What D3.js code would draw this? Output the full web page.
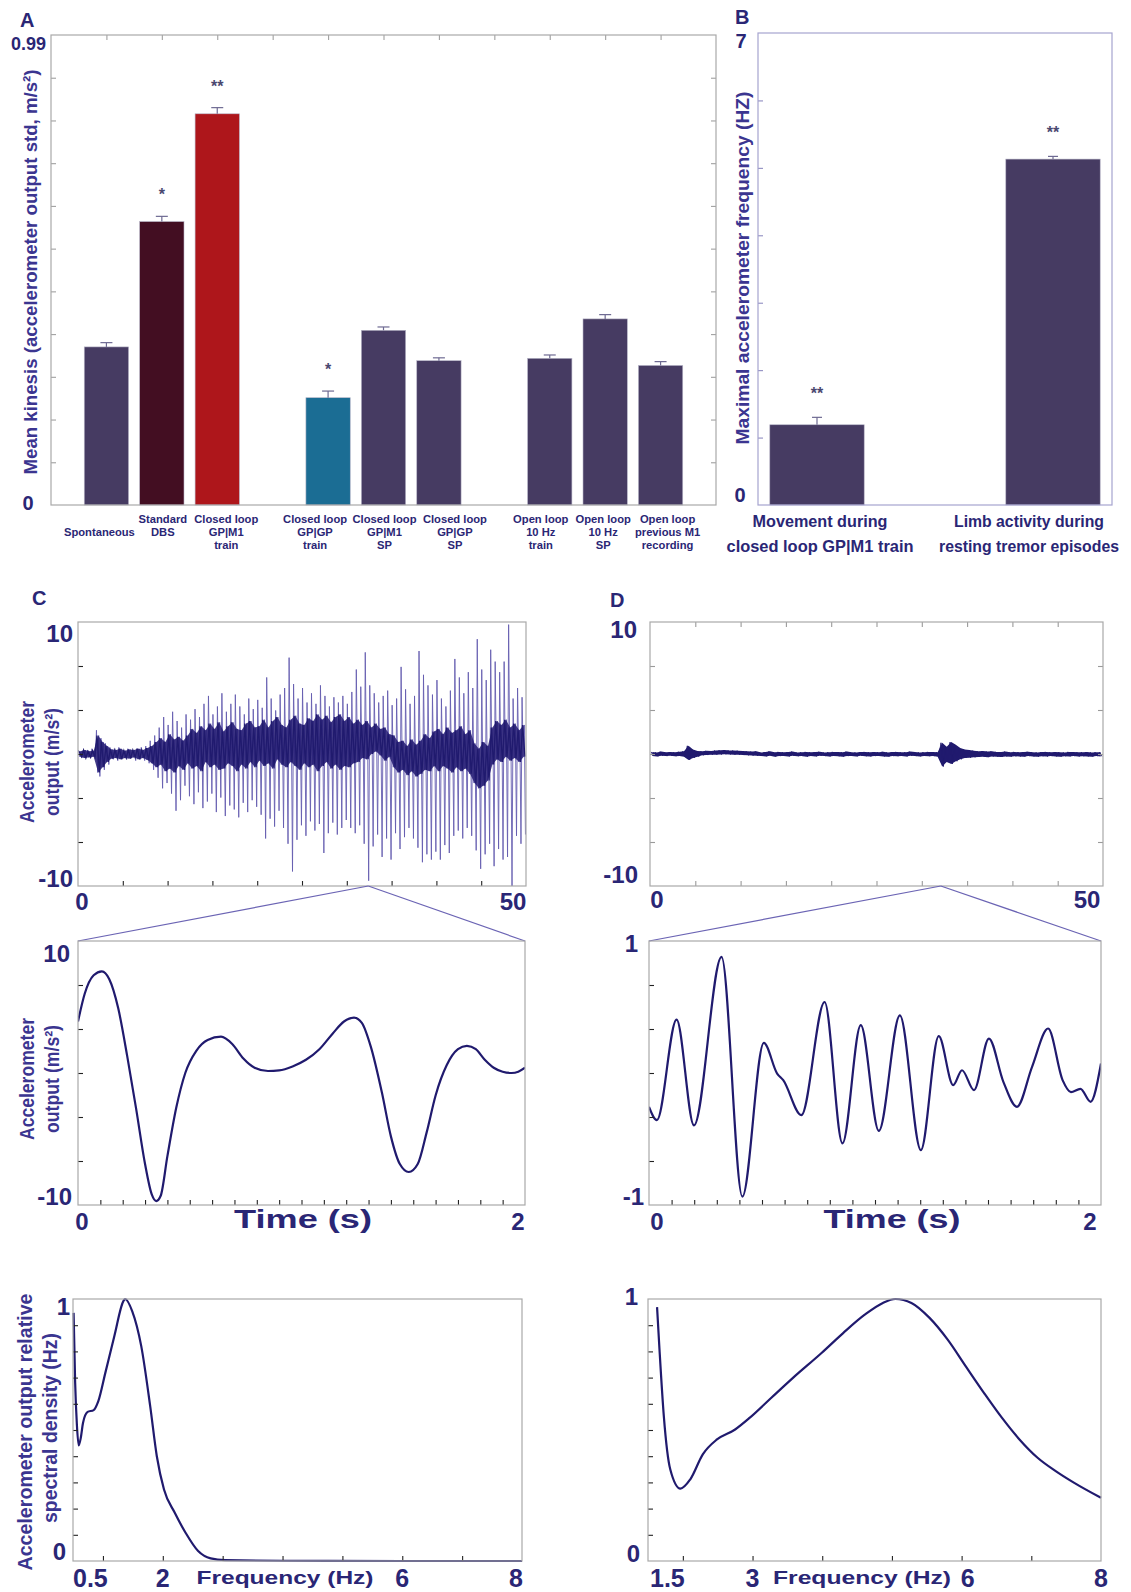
<!DOCTYPE html>
<html>
<head>
<meta charset="utf-8">
<script src="https://cdn.jsdelivr.net/npm/d3@7"></script>
<style>
  body { margin: 0; background: #fff; }
</style>
</head>
<body>
<script>
// ---------- data ----------

// A: mean kinesis per condition
const kinesisLabels = [
  ["Spontaneous"], ["Standard", "DBS"], ["Closed loop", "GP|M1", "train"],
  ["Closed loop", "GP|GP", "train"], ["Closed loop", "GP|M1", "SP"], ["Closed loop", "GP|GP", "SP"],
  ["Open loop", "10 Hz", "train"], ["Open loop", "10 Hz", "SP"], ["Open loop", "previous M1", "recording"]
];
const kinesisSlot = [1, 2, 3, 5, 6, 7, 9, 10, 11];
const kinesisMean = [0.333, 0.597, 0.824, 0.226, 0.368, 0.304, 0.309, 0.392, 0.294];
const kinesisErr = [0.009, 0.011, 0.013, 0.014, 0.007, 0.006, 0.007, 0.009, 0.008];
const kinesisStars = ["", "*", "**", "*", "", "", "", "", ""];

// B: maximal accelerometer frequency
const freqLabels = [["Movement during", "closed loop GP|M1 train"], ["Limb activity during", "resting tremor episodes"]];
const freqMean = [1.19, 5.13];
const freqErr = [0.11, 0.04];
const freqStars = ["**", "**"];

// C top: 50 s raw trace, peak envelope per 0.5 s bin
const rawHiC = [0.3,0.2,0.3,0.4, 1.8,1.2,0.8, 0.5,0.4,0.5,0.3,0.4,0.3,0.4,0.5,0.6,
  1.0,1.4,2.0,2.8, 2.2,3.2,2.5,2.0, 3.0,2.6,3.4,2.8,3.8,4.4,3.0,3.6,4.6,3.2,
  3.8,4.5,3.6,3.0,4.2,3.4, 4.1,3.5,5.8,4.2,3.3, 4.5,5.0,7.3,5.3,4.2, 5.0,3.9,4.6,3.8,5.2,
  4.4,3.6,4.3,3.9,4.4, 3.8,4.7,6.4,5.1,7.7, 5.2,4.6,3.9,4.4,4.8, 3.7,4.2,6.6,4.9,3.8,
  4.4,7.8,6.0,5.2,4.5, 5.6,4.2,3.6,4.8,7.2, 5.8,4.6,6.2,5.0,8.7, 6.4,5.6,7.9,7.0,6.2,
  7.0,9.8,4.2,5.0,4.3];
const rawLoC = [-0.3,-0.2,-0.3,-0.4, -1.7,-1.2,-0.8, -0.4,-0.5,-0.3,-0.4,-0.3,-0.5,-0.4,-0.5,-0.7,
  -1.2,-1.8,-2.6,-2.2, -3.0,-4.3,-3.5,-2.4, -3.2,-3.8,-2.9,-4.1,-3.6,-3.0,-4.4,-3.3,-4.7,-3.9,
  -4.2,-4.8,-3.7,-4.4,-3.5,-4.0, -4.6,-6.4,-4.9,-5.5,-4.3, -5.6,-6.8,-8.9,-6.5,-5.4, -6.2,-5.1,-5.8,-5.3,-7.5,
  -6.0,-5.2,-6.1,-5.6,-5.0, -5.6,-6.0,-5.4,-6.8,-9.6, -7.0,-6.1,-7.8,-6.4,-8.0, -6.0,-7.2,-6.3,-5.6,-6.4,
  -7.1,-8.2,-7.6,-8.0,-7.4, -8.0,-6.9,-7.5,-6.2,-5.8, -6.4,-5.6,-6.2,-7.3,-8.7, -7.6,-6.8,-8.5,-7.2,-8.0,
  -7.8,-10.0,-6.2,-6.8,-6.1];
// C top: dense dark core of the trace, per 0.5 s bin
const coreHiC = [0.2,0.3,0.2,0.25, 1.4,0.9,0.6,0.35, 0.3,0.4,0.25,0.35,0.3,0.4,0.3,0.45,
  0.6,0.9,1.2,0.9,1.5,1.1,1.3,1.0,
  1.4,1.9,1.6,2.1,1.8,2.3,1.9,2.4,1.7,2.1,2.4,1.9,1.8,2.3,2.5,2.0,
  2.1,2.6,2.0,2.5,2.8,2.2,2.0,2.6,2.9,2.3,2.2,2.7,2.5,3.0,2.6,2.9,2.4,2.8,3.0,2.5,
  2.8,2.3,2.6,2.2,2.5,2.0,2.3,1.9,2.0,1.5, 1.4,0.9,1.0,0.6,1.1,0.7, 1.0,1.5,1.2,1.7,
  1.9,1.5,2.0,1.6,1.8,2.1,1.5,1.8, 0.8,0.4,0.9,0.6, 2.0,2.5,2.2,2.6,2.0,2.3,1.8,2.2];
const coreLoC = [-0.2,-0.3,-0.25,-0.2, -1.4,-1.0,-0.6,-0.35, -0.3,-0.4,-0.3,-0.35,-0.25,-0.4,-0.3,-0.45,
  -0.7,-1.0,-0.8,-1.3,-1.1,-1.4,-0.9,-1.2,
  -0.7,-1.1,-0.9,-1.3,-0.6,-1.0,-0.8,-1.2,-1.1,-0.7,-0.9,-1.3,-0.8,-1.1,-0.6,-1.0,
  -0.5,-0.9,-0.7,-1.1,-0.4,-0.8,-1.0,-0.6,-0.9,-1.2,-0.7,-1.0,-0.8,-1.3,-0.9,-0.6,-1.1,-0.8,-1.2,-0.9,
  -1.0,-0.7,-0.6,-0.3,-0.4,0.0,0.2,-0.1,-0.5,-0.2, -1.0,-1.4,-1.2,-1.6,-1.3,-1.7, -1.5,-1.2,-1.3,-0.9,
  -1.3,-0.9,-1.1,-1.4,-1.0,-1.3,-1.1,-1.5, -2.2,-2.6,-2.4,-2.0, -0.8,-0.4,-0.6,-0.2,-0.5,-0.3,-0.6,-0.2];

// D top: 50 s raw trace, envelope per 0.5 s bin
const rawHiD = [0.16,0.12,0.18,0.14,0.15,0.13,0.17,0.2, 0.62,0.35,0.22,
  0.2,0.24,0.22,0.26,0.28,0.3,0.27,0.26,0.25,0.22,0.2,0.18,0.2,
  0.12,0.15,0.2,0.14,0.16,0.13,0.15,0.18,0.12,0.14, 0.16,0.13,0.15,0.17,0.12,0.14,0.16,0.15,0.13,0.18,
  0.14,0.12,0.15,0.16,0.13,0.15,0.14,0.17,0.12,0.15, 0.16,0.13,0.14,0.18,0.15,0.12,0.14,0.16,0.15,0.13,
  0.85,0.55,0.9,0.7,0.45,0.35,0.3,
  0.25,0.2,0.22,0.18,0.2,0.16,0.15,0.18,0.14,0.16, 0.13,0.15,0.17,0.14,0.12,0.15,0.16,0.13,0.15,0.14,
  0.12,0.16,0.15,0.13,0.14,0.15,0.12,0.14,0.13];
const rawLoD = [-0.15,-0.18,-0.13,-0.16,-0.14,-0.17,-0.15,-0.2, -0.45,-0.3,-0.2,
  -0.1,-0.08,-0.06,-0.05,-0.04,-0.02,-0.03,-0.05,-0.06,-0.08,-0.1,-0.12,-0.14,
  -0.15,-0.18,-0.14,-0.2,-0.16,-0.15,-0.19,-0.14,-0.17,-0.16, -0.2,-0.15,-0.18,-0.14,-0.16,-0.19,-0.15,-0.17,-0.2,-0.16,
  -0.15,-0.18,-0.14,-0.17,-0.19,-0.16,-0.15,-0.18,-0.2,-0.16, -0.17,-0.15,-0.19,-0.14,-0.16,-0.18,-0.15,-0.17,-0.16,-0.2,
  -0.95,-0.6,-0.75,-0.55,-0.4,-0.3,-0.28,
  -0.25,-0.22,-0.2,-0.24,-0.19,-0.2,-0.22,-0.18,-0.2,-0.17, -0.19,-0.2,-0.16,-0.18,-0.2,-0.17,-0.19,-0.16,-0.18,-0.2,
  -0.17,-0.18,-0.16,-0.19,-0.17,-0.18,-0.2,-0.16,-0.18];

// C middle: 2 s zoom of the trace
const zoomTC = [0,0.03,0.07,0.107,0.14,0.18,0.22,0.26,0.30,0.33,0.35,0.37,0.40,0.44,0.48,0.53,0.58,0.64,0.69,0.74,
  0.79,0.85,0.90,0.96,1.02,1.08,1.14,1.19,1.235,1.27,1.31,1.36,1.40,1.44,1.48,1.52,1.56,1.60,1.65,1.70,
  1.74,1.78,1.82,1.86,1.90,1.94,1.97,2.0];
const zoomVC = [3.9,6.0,7.4,7.7,7.1,4.9,1.3,-2.7,-6.9,-9.2,-9.7,-9.3,-6.3,-2.6,0.0,1.7,2.5,2.75,2.2,1.1,
  0.4,0.15,0.2,0.5,1.0,1.8,3.0,3.9,4.2,3.8,2.0,-1.5,-4.8,-6.9,-7.5,-6.9,-4.5,-1.7,0.6,1.8,
  2.06,1.8,1.0,0.4,0.1,0.0,0.1,0.4];

// D middle: 2 s zoom of the trace
const zoomTD = [0,0.035,0.122,0.199,0.321,0.413,0.508,0.567,0.594,0.674,0.777,0.856,0.937,1.017,1.110,
  1.203,1.282,1.346,1.385,1.438,1.504,1.568,1.628,1.695,1.766,1.83,1.867,1.909,1.954,2.0];
const zoomVD = [-0.256,-0.357,0.405,-0.397,0.879,-0.937,0.228,-0.004,-0.054,-0.319,0.538,-0.533,0.362,-0.438,0.437,
  -0.584,0.279,-0.092,0.021,-0.130,0.261,-0.067,-0.256,0.047,0.337,-0.054,-0.145,-0.12,-0.218,0.072];

// bottom: relative spectral density
const specFC = [0.51,0.536,0.565,0.595,0.63,0.667,0.744,0.845,0.923,1.04,1.19,1.34,1.37,1.49,1.64,1.79,1.90,2.02,
  2.2,2.38,2.59,2.8,3.04,4.0,6.0,8.0];
const specVC = [0.947,0.68,0.52,0.441,0.47,0.527,0.569,0.576,0.61,0.718,0.858,0.991,1.0,0.953,0.82,0.59,0.40,0.273,
  0.184,0.108,0.038,0.01,0.003,0.001,0,0];
const specFD = [1.63,1.665,1.727,1.82,1.965,2.105,2.286,2.49,2.75,2.957,3.27,3.58,3.99,4.3,4.61,4.87,5.05,5.28,
  5.54,5.80,6.06,6.32,6.58,6.83,7.09,7.35,7.61,8.0];
const specVD = [0.969,0.807,0.553,0.349,0.276,0.311,0.407,0.464,0.502,0.546,0.623,0.699,0.794,0.870,0.940,0.985,1.0,0.985,
  0.928,0.845,0.743,0.642,0.546,0.464,0.394,0.343,0.299,0.241];

// ---------- styles ----------
const INK = "#2a2675", LABEL = "#3b3590", FRAME = "#a9a9a9", TRACE = "#201a6e";
const SANS = '"Liberation Sans", Arial, sans-serif';
const barFill = { default: "#463b62", "Standard DBS": "#430e22", "Closed loop GP|M1 train": "#ae161b", "Closed loop GP|GP train": "#1b6d94" };
// the category labels in A are spread a little wider than the bars
const labelShiftA = [-7, 1, 9, -13, 1, 16, -9, -2, 7];

const svg = d3.select("body").append("svg").attr("width", 1131).attr("height", 1592);
const defs = svg.append("defs");

function text(g, x, y, str, size, opt = {}) {
  const t = g.append("text").attr("x", x).attr("y", y).text(str)
    .attr("font-size", size).attr("font-weight", "bold")
    .attr("font-family", SANS)
    .attr("fill", opt.fill || INK)
    .attr("text-anchor", opt.anchor || "middle");
  if (opt.len) t.attr("textLength", opt.len).attr("lengthAdjust", "spacingAndGlyphs");
  if (opt.rotate) t.attr("transform", `rotate(-90 ${x} ${y})`).attr("dy", "0.35em");
  return t;
}

function frame(x, y, color) {
  svg.append("rect")
    .attr("x", x.range()[0]).attr("y", y.range()[1])
    .attr("width", x.range()[1] - x.range()[0]).attr("height", y.range()[0] - y.range()[1])
    .attr("fill", "none").attr("stroke", color || FRAME).attr("stroke-width", 1.2);
}

// ticks pointing into the plot box
function innerTicks(axisFn, scale, values, tx, ty, color, len = 5) {
  svg.append("g").attr("transform", `translate(${tx},${ty})`)
    .call(axisFn(scale).tickValues(values).tickSize(-len).tickFormat(""))
    .call(a => a.select(".domain").remove())
    .call(a => a.selectAll("line").attr("stroke", color).attr("stroke-width", 1.1));
}

function clipFor(id, x, y) {
  defs.append("clipPath").attr("id", id).append("rect")
    .attr("x", x.range()[0]).attr("y", y.range()[1])
    .attr("width", x.range()[1] - x.range()[0]).attr("height", y.range()[0] - y.range()[1]);
  return `url(#${id})`;
}

// ---------- A ----------
const xA = d3.scaleLinear().domain([0, 12]).range([51, 716]);
const yA = d3.scaleLinear().domain([0, 0.99]).range([505, 35]);
const ticksA = d3.range(1, 11).map(i => i * 0.09);
innerTicks(d3.axisLeft, yA, ticksA, 51, 0, "#a0a0a0");
innerTicks(d3.axisRight, yA, ticksA, 716, 0, "#a0a0a0");
innerTicks(d3.axisTop, xA, d3.range(1, 12), 0, 35, "#a0a0a0");

const gA = svg.append("g");
kinesisMean.forEach((m, i) => {
  const name = kinesisLabels[i].join(" ");
  const cx = xA(kinesisSlot[i]);
  gA.append("rect")
    .attr("x", xA(kinesisSlot[i] - 0.4)).attr("y", yA(m))
    .attr("width", xA(0.8) - xA(0)).attr("height", yA(0) - yA(m))
    .attr("fill", barFill[name] || barFill.default)
    .attr("stroke", "#b8b6c8").attr("stroke-width", 0.6);
  const top = yA(m + kinesisErr[i]);
  gA.append("line").attr("x1", cx).attr("x2", cx).attr("y1", yA(m)).attr("y2", top)
    .attr("stroke", "#6e6a92").attr("stroke-width", 1.2);
  gA.append("line").attr("x1", cx - 6).attr("x2", cx + 6).attr("y1", top).attr("y2", top)
    .attr("stroke", "#6e6a92").attr("stroke-width", 1.2);
  if (kinesisStars[i]) text(gA, cx, top - 16, kinesisStars[i], 16, { fill: "#4a4870" });
  const lines = kinesisLabels[i];
  const start = lines.length === 1 ? 1 : 0;
  lines.forEach((s, k) => text(gA, cx + labelShiftA[i], 523 + (start + k) * 13, s, 11.2));
});
frame(xA, yA);
text(svg, 20, 27, "A", 20, { anchor: "start" });
text(svg, 46, 50, "0.99", 18, { anchor: "end" });
text(svg, 28, 510, "0", 20);
text(svg, 30, 272, "Mean kinesis (accelerometer output std, m/s²)", 19, { rotate: true, fill: LABEL, len: 405 });

// ---------- B ----------
const xB = d3.scaleLinear().domain([0.75, 2.25]).range([758, 1112]);
const yB = d3.scaleLinear().domain([0, 7]).range([505, 33]);
innerTicks(d3.axisLeft, yB, d3.range(1, 7), 758, 0, "#8f8cc0");
const gB = svg.append("g");
freqMean.forEach((m, i) => {
  const cx = xB(i + 1);
  gB.append("rect")
    .attr("x", xB(i + 1 - 0.2)).attr("y", yB(m))
    .attr("width", xB(0.4) - xB(0)).attr("height", yB(0) - yB(m))
    .attr("fill", barFill.default).attr("stroke", "#b8b6c8").attr("stroke-width", 0.6);
  const top = yB(m + freqErr[i]);
  gB.append("line").attr("x1", cx).attr("x2", cx).attr("y1", yB(m)).attr("y2", top)
    .attr("stroke", "#6e6a92").attr("stroke-width", 1.2);
  gB.append("line").attr("x1", cx - 5).attr("x2", cx + 5).attr("y1", top).attr("y2", top)
    .attr("stroke", "#6e6a92").attr("stroke-width", 1.2);
  text(gB, cx, top - 18, freqStars[i], 16, { fill: "#4a4870" });
  const lens = i === 0 ? [135, 187] : [150, 180];
  const lx = Math.min(cx + 3, 1131 - 12 - d3.max(lens) / 2);
  freqLabels[i].forEach((s, k) => text(gB, lx, 527 + k * 25, s, 16.5, { len: lens[k] }));
});
frame(xB, yB, "#a6a4cf");
text(svg, 735, 24, "B", 20, { anchor: "start" });
text(svg, 741, 48, "7", 20);
text(svg, 740, 502, "0", 20);
text(svg, 742, 268, "Maximal accelerometer frequency (HZ)", 19, { rotate: true, fill: LABEL, len: 353 });

// ---------- C / D top: 50 s traces ----------
const xC1 = d3.scaleLinear().domain([0, 50]).range([78, 526]);
const yC1 = d3.scaleLinear().domain([-10, 10]).range([886, 622]);
const xD1 = d3.scaleLinear().domain([0, 50]).range([650, 1103]);
const yD1 = d3.scaleLinear().domain([-10, 10]).range([886, 622]);
const sixths = d3.range(1, 6).map(i => -10 + i * 20 / 6);
const fives = d3.range(5, 50, 5);

// spikes of each 0.5 s bin: up to its peak, down into the core, up the core, down to its trough
const spikesC = rawHiC.flatMap((h, i) => {
  const t = i * 0.5;
  return [[t + 0.06, h], [t + 0.19, coreLoC[i]], [t + 0.31, coreHiC[i]], [t + 0.44, rawLoC[i]]];
});

const clipC1 = clipFor("clipC1", xC1, yC1);
const lineC1 = d3.line().x(d => xC1(d[0])).y(d => yC1(d[1]));
svg.append("path").datum(spikesC)
  .attr("d", lineC1).attr("fill", "none").attr("stroke", "#655db0").attr("stroke-width", 0.9)
  .attr("clip-path", clipC1);
svg.append("path").datum(coreHiC.map((h, i) => [i * 0.5 + 0.25, h, coreLoC[i]]))
  .attr("d", d3.area().x(d => xC1(d[0])).y0(d => yC1(d[2])).y1(d => yC1(d[1])))
  .attr("fill", "#251c73").attr("opacity", 0.85).attr("clip-path", clipC1);
svg.append("path").datum(coreHiC.flatMap((h, i) => [[i * 0.5 + 0.12, h], [i * 0.5 + 0.38, coreLoC[i]]]))
  .attr("d", lineC1).attr("fill", "none").attr("stroke", TRACE).attr("stroke-width", 1.3)
  .attr("clip-path", clipC1);
innerTicks(d3.axisLeft, yC1, sixths, 78, 0, "#222");
innerTicks(d3.axisBottom, xC1, fives, 0, 886, "#222");
frame(xC1, yC1);

const clipD1 = clipFor("clipD1", xD1, yD1);
svg.append("path").datum(rawHiD.map((h, i) => [i * 0.5 + 0.25, h, rawLoD[i]]))
  .attr("d", d3.area().x(d => xD1(d[0])).y0(d => yD1(d[2])).y1(d => yD1(d[1])))
  .attr("fill", TRACE).attr("clip-path", clipD1);
svg.append("path").datum(rawHiD.flatMap((h, i) => [[i * 0.5 + 0.12, h], [i * 0.5 + 0.38, rawLoD[i]]]))
  .attr("d", d3.line().x(d => xD1(d[0])).y(d => yD1(d[1])))
  .attr("fill", "none").attr("stroke", TRACE).attr("stroke-width", 0.9).attr("clip-path", clipD1);
innerTicks(d3.axisLeft, yD1, sixths, 650, 0, "#9a9a9a");
innerTicks(d3.axisRight, yD1, sixths, 1103, 0, "#9a9a9a");
innerTicks(d3.axisBottom, xD1, fives, 0, 886, "#9a9a9a");
innerTicks(d3.axisTop, xD1, fives, 0, 622, "#9a9a9a");
frame(xD1, yD1);

text(svg, 32, 605, "C", 20, { anchor: "start" });
text(svg, 610, 607, "D", 20, { anchor: "start" });
text(svg, 73, 642, "10", 24, { anchor: "end" });
text(svg, 73, 887, "-10", 24, { anchor: "end" });
text(svg, 82, 910, "0", 24);
text(svg, 513, 910, "50", 24);
text(svg, 637, 638, "10", 24, { anchor: "end" });
text(svg, 638, 883, "-10", 24, { anchor: "end" });
text(svg, 657, 908, "0", 24);
text(svg, 1087, 908, "50", 24);

// ---------- C / D middle: 2 s zooms ----------
const xC2 = d3.scaleLinear().domain([0, 2]).range([78, 525]);
const yC2 = d3.scaleLinear().domain([-10, 10]).range([1205, 941]);
const xD2 = d3.scaleLinear().domain([0, 2]).range([649, 1101]);
const yD2 = d3.scaleLinear().domain([-1, 1]).range([1205, 941]);

// connector lines from the zoomed window to the lower box
[[xC1(32.4), xC2], [xD1(32.1), xD2]].forEach(([ax, sx]) => {
  sx.range().forEach(px => {
    svg.append("line").attr("x1", ax).attr("y1", 886).attr("x2", px).attr("y2", 941)
      .attr("stroke", "#6b64b4").attr("stroke-width", 1.2);
  });
});

const clipC2 = clipFor("clipC2", xC2, yC2);
svg.append("path").datum(zoomTC.map((t, i) => [t, zoomVC[i]]))
  .attr("d", d3.line().x(d => xC2(d[0])).y(d => yC2(d[1])).curve(d3.curveMonotoneX))
  .attr("fill", "none").attr("stroke", TRACE).attr("stroke-width", 2.2).attr("clip-path", clipC2);
innerTicks(d3.axisLeft, yC2, sixths, 78, 0, "#222");
innerTicks(d3.axisBottom, xC2, d3.range(1, 20).map(i => i / 10), 0, 1205, "#222");
frame(xC2, yC2);

const clipD2 = clipFor("clipD2", xD2, yD2);
svg.append("path").datum(zoomTD.map((t, i) => [t, zoomVD[i]]))
  .attr("d", d3.line().x(d => xD2(d[0])).y(d => yD2(d[1])).curve(d3.curveMonotoneX))
  .attr("fill", "none").attr("stroke", TRACE).attr("stroke-width", 2.2).attr("clip-path", clipD2);
innerTicks(d3.axisLeft, yD2, d3.range(1, 6).map(i => -1 + i * 2 / 6), 649, 0, "#222");
innerTicks(d3.axisBottom, xD2, d3.range(1, 20).map(i => i / 10), 0, 1205, "#222");
frame(xD2, yD2);

text(svg, 70, 962, "10", 24, { anchor: "end" });
text(svg, 72, 1205, "-10", 24, { anchor: "end" });
text(svg, 82, 1230, "0", 24);
text(svg, 518, 1230, "2", 24);
text(svg, 303, 1228, "Time (s)", 26, { len: 138 });
text(svg, 638, 952, "1", 24, { anchor: "end" });
text(svg, 644, 1205, "-1", 24, { anchor: "end" });
text(svg, 657, 1230, "0", 24);
text(svg, 1090, 1230, "2", 24);
text(svg, 892, 1228, "Time (s)", 26, { len: 137 });

[762, 1079].forEach(cy => {
  text(svg, 27, cy, "Accelerometer", 20, { rotate: true, fill: LABEL, len: 122 });
  text(svg, 52, cy, "output (m/s²)", 20, { rotate: true, fill: LABEL, len: 108 });
});

// ---------- C / D bottom: spectra ----------
const xC3 = d3.scaleLinear().domain([0.5, 8]).range([73, 522]);
const yC3 = d3.scaleLinear().domain([0, 1]).range([1561, 1299]);
const xD3 = d3.scaleLinear().domain([1.5, 8]).range([648, 1101]);
const yD3 = d3.scaleLinear().domain([0, 1]).range([1561, 1299]);
const tenths = d3.range(1, 10).map(i => i / 10);

svg.append("path").datum(specFC.map((f, i) => [f, specVC[i]]))
  .attr("d", d3.line().x(d => xC3(d[0])).y(d => yC3(d[1])).curve(d3.curveMonotoneX))
  .attr("fill", "none").attr("stroke", TRACE).attr("stroke-width", 2.2);
innerTicks(d3.axisLeft, yC3, tenths, 73, 0, "#222");
innerTicks(d3.axisBottom, xC3, d3.range(1, 8), 0, 1561, "#222");
frame(xC3, yC3);

svg.append("path").datum(specFD.map((f, i) => [f, specVD[i]]))
  .attr("d", d3.line().x(d => xD3(d[0])).y(d => yD3(d[1])).curve(d3.curveMonotoneX))
  .attr("fill", "none").attr("stroke", TRACE).attr("stroke-width", 2.2);
innerTicks(d3.axisLeft, yD3, tenths, 648, 0, "#222");
innerTicks(d3.axisBottom, xD3, d3.range(2, 8), 0, 1561, "#222");
frame(xD3, yD3);

text(svg, 70, 1315, "1", 24, { anchor: "end" });
text(svg, 66, 1560, "0", 24, { anchor: "end" });
text(svg, xC3(0.5), 1587, "0.5", 25, { anchor: "start" });
text(svg, xC3(2), 1587, "2", 25);
text(svg, xC3(6), 1587, "6", 25);
text(svg, xC3(8) - 6, 1587, "8", 25);
text(svg, 285, 1584, "Frequency (Hz)", 19, { len: 177 });
text(svg, 638, 1305, "1", 24, { anchor: "end" });
text(svg, 640, 1562, "0", 24, { anchor: "end" });
text(svg, xD3(1.5) + 2, 1587, "1.5", 25, { anchor: "start" });
text(svg, xD3(3), 1587, "3", 25);
text(svg, xD3(6) + 6, 1587, "6", 25);
text(svg, xD3(8), 1587, "8", 25);
text(svg, 862, 1584, "Frequency (Hz)", 19, { len: 178 });

text(svg, 25, 1432, "Accelerometer output relative", 20, { rotate: true, fill: LABEL, len: 277 });
text(svg, 50, 1428, "spectral density (Hz)", 20, { rotate: true, fill: LABEL, len: 190 });
</script>
</body>
</html>
